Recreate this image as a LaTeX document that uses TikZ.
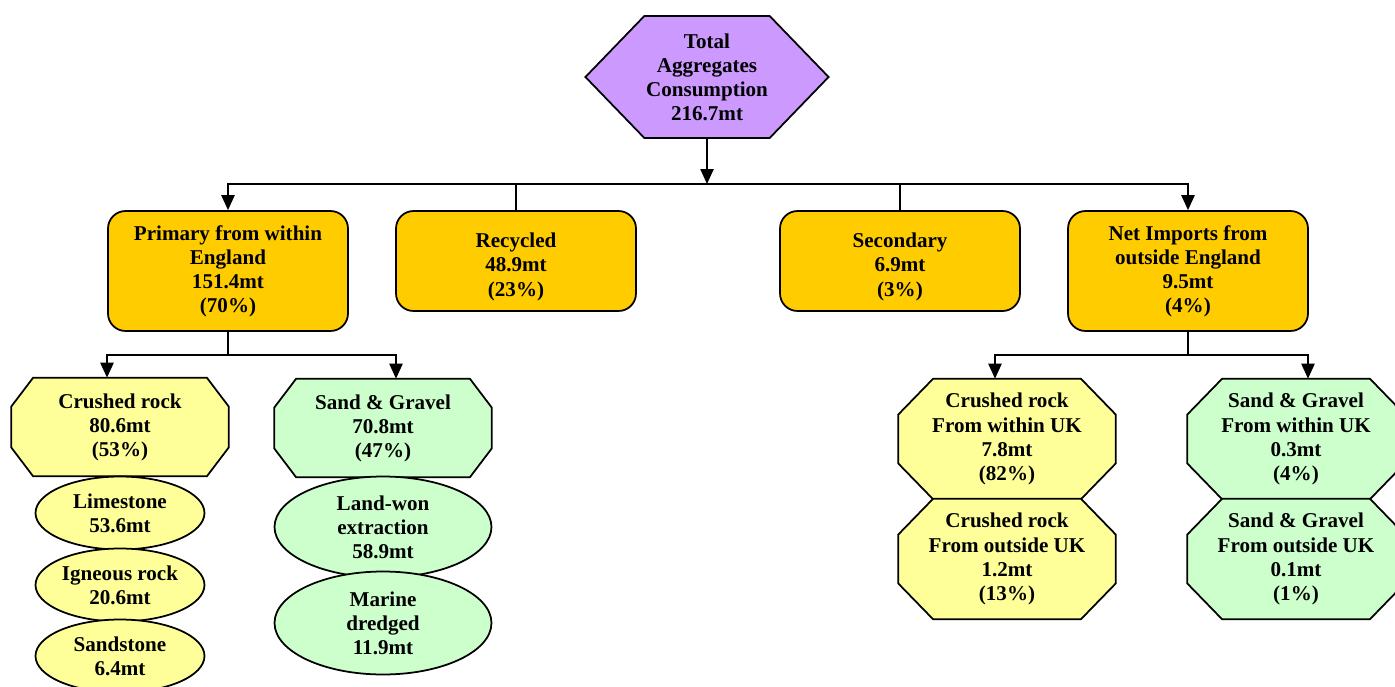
\documentclass[tikz,border=0pt]{standalone}
\usepackage{fontspec}
\setmainfont{Liberation Serif}
\usetikzlibrary{shapes.geometric, shapes.symbols, arrows.meta, calc, backgrounds}
\definecolor{total-fill}{RGB}{204,153,255}
\definecolor{group-fill}{RGB}{255,204,0}
\definecolor{rock-fill}{RGB}{255,255,153}
\definecolor{sand-fill}{RGB}{204,255,204}
\tikzset{
    boxtext/.style = {align=center, inner sep=1pt,
        font=\fontsize{12}{13.7}\selectfont\bfseries},
    box/.style = {boxtext, draw, line width=1pt},
    hexbox/.style = {box, signal, signal to=west and east, signal pointer angle=92,
        fill=total-fill, minimum width=4.78cm, minimum height=2.44cm},
    groupbox/.style = {box, rounded corners=0.35cm, fill=group-fill,
        minimum width=4.8cm, minimum height=#1},
    groupbox/.default = {2.4cm},
    octbox/.style = {boxtext, minimum width=4.34cm, minimum height=1.96cm},
    bigoctbox/.style = {boxtext, minimum width=4.34cm, minimum height=2.4cm},
    oval/.style = {box, ellipse, inner sep=0pt},
    link/.style = {line width=1pt, -{Triangle[width=7.5pt,length=8.5pt]}},
    plain/.style = {line width=1pt}
}
% octagon round a node: name, x cut, y cut, fill
\newcommand{\octoutline}[4]{%
  \filldraw[line width=1pt, fill=#4]
    ($(#1.north west)+(#2,0)$) -- ($(#1.north east)+(-#2,0)$)
    -- ($(#1.north east)+(0,#3)$) -- ($(#1.south east)+(0,-#3)$)
    -- ($(#1.south east)+(-#2,0)$) -- ($(#1.south west)+(#2,0)$)
    -- ($(#1.south west)+(0,-#3)$) -- ($(#1.north west)+(0,#3)$) -- cycle;}
\newcommand{\lowstrut}{\rule{0pt}{15pt}}

\begin{document}
\begin{tikzpicture}[x=0.02cm, y=-0.02cm]
\useasboundingbox (0,0) rectangle (1395,686);

%top
\node[hexbox] (total) at (707,77) {Total\\Aggregates\\Consumption\\216.7mt};

%groups
\node[groupbox] (primary) at (228,271) {Primary from within\\England\\151.4mt\\(70\%)};
\node[groupbox=2cm] (recycled) at (516,261) {\lowstrut Recycled\\48.9mt\\(23\%)};
\node[groupbox=2cm] (secondary) at (900,261) {\lowstrut Secondary\\6.9mt\\(3\%)};
\node[groupbox] (imports) at (1188,271) {Net Imports from\\outside England\\9.5mt\\(4\%)};

%primary split
\node[octbox] (crushed) at (120,427) {Crushed rock\\80.6mt\\(53\%)};
\node[octbox] (sandgr) at (383,428) {Sand \& Gravel\\70.8mt\\(47\%)};

\node[oval, fill=rock-fill, minimum width=3.38cm, minimum height=1.46cm] (limestone) at (120,513) {Limestone\\53.6mt};
\node[oval, fill=rock-fill, minimum width=3.38cm, minimum height=1.46cm] (igneous) at (120,585) {Igneous rock\\20.6mt};
\node[oval, fill=rock-fill, minimum width=3.38cm, minimum height=1.46cm] (sandstone) at (120,656) {Sandstone\\6.4mt};

\node[oval, fill=sand-fill, minimum width=4.34cm, minimum height=2.02cm] (landwon) at (383,527) {Land-won\\extraction\\58.9mt};
\node[oval, fill=sand-fill, minimum width=4.34cm, minimum height=2.06cm] (marine) at (383,623) {Marine\\dredged\\11.9mt};

%imports split
\node[bigoctbox] (rockin) at (1007,439) {Crushed rock\\From within UK\\7.8mt\\(82\%)};
\node[bigoctbox] (rockout) at (1007,559) {Crushed rock\\From outside UK\\1.2mt\\(13\%)};
\node[bigoctbox] (sandin) at (1296,439) {Sand \& Gravel\\From within UK\\0.3mt\\(4\%)};
\node[bigoctbox] (sandout) at (1296,559) {Sand \& Gravel\\From outside UK\\0.1mt\\(1\%)};

\begin{scope}[on background layer]
\octoutline{crushed}{22}{29}{rock-fill}
\octoutline{sandgr}{22}{29}{sand-fill}
\octoutline{rockin}{35}{36}{rock-fill}
\octoutline{rockout}{35}{36}{rock-fill}
\octoutline{sandin}{35}{36}{sand-fill}
\octoutline{sandout}{35}{36}{sand-fill}
\end{scope}

%connectors
\coordinate (bus) at (707,184);
\draw[link] (total) -- (bus);
\draw[link] (bus) -| (primary);
\draw[link] (bus) -| (imports);
\draw[plain] (bus) -| (recycled);
\draw[plain] (bus) -| (secondary);

\coordinate (pbus) at (228,355);
\draw[plain] (primary) -- (pbus);
\draw[link] (pbus) -| ($(crushed.north)+(-13,0)$);
\draw[link] (pbus) -| ($(sandgr.north)+(13,0)$);

\coordinate (ibus) at (1188,355);
\draw[plain] (imports) -- (ibus);
\draw[link] (ibus) -| ($(rockin.north)+(-12,0)$);
\draw[link] (ibus) -| ($(sandin.north)+(12,0)$);

\end{tikzpicture}
\end{document}
